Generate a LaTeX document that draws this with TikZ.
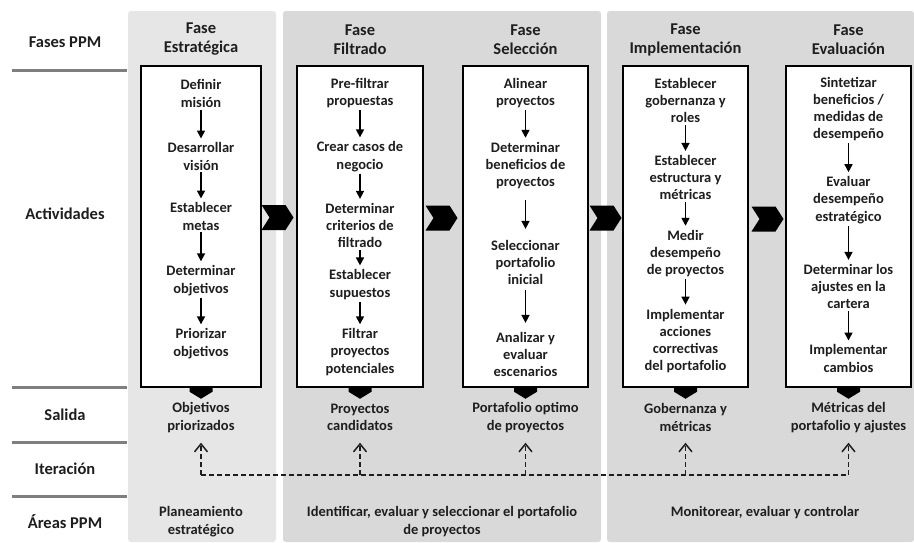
\documentclass[tikz,border=0pt]{standalone}
\usepackage{fontspec}
\setmainfont{Carlito}
\usetikzlibrary{arrows.meta}
\definecolor{pA}{HTML}{E6E6E6}
\definecolor{pB}{HTML}{D9D9D9}
\definecolor{rulec}{HTML}{7F7F7F}
\definecolor{ink}{HTML}{1E1E1E}
\begin{document}
\begin{tikzpicture}[x=1pt,y=-1pt,
  every node/.style={text=ink},
  lbl/.style={font=\fontsize{16.5}{19}\selectfont\bfseries, align=center},
  head/.style={font=\fontsize{16.5}{19}\selectfont\bfseries, align=center},
  actbox/.style={draw=black, line width=1.5pt, fill=white, minimum width=#1, minimum height=321pt, inner sep=0pt},
  act/.style={font=\fontsize{14.5}{17.3}\selectfont\bfseries, align=center, inner sep=1pt},
  flow/.style={draw=black, line width=1.6pt, -{Triangle[width=8pt,length=8pt]}, shorten <=1pt, shorten >=3pt},
  outp/.style={font=\fontsize{14.5}{17.3}\selectfont\bfseries, align=center, minimum height=50pt, inner sep=0pt},
  iter/.style={draw=ink, line width=1.5pt, dash pattern=on 5pt off 3pt},
  iterarr/.style={iter, -{Straight Barb[length=8pt,width=13pt,line width=1.5pt]}},
  rulel/.style={draw=rulec, line width=3pt},
  chev/.pic={\fill[black] (-16,-12.5) -- (8,-12.5) -- (16,0) -- (8,12.5) -- (-16,12.5) -- (-8,0) -- cycle;},
  outmark/.pic={\fill[black] (-11.5,0) -- (11.5,0) -- (11.5,4) -- (0,11) -- (-11.5,4) -- cycle;}
]
\useasboundingbox (0,0) rectangle (914,542);
\fill[white] (0,0) rectangle (914,542);
% panels
\fill[pA, rounded corners=3pt] (128,11) rectangle (276,542);
\fill[pB, rounded corners=3pt] (283,11) rectangle (601,542);
\fill[pB, rounded corners=3pt] (607,11) rectangle (914,542);
% left column
\node[lbl] (lfases) at (65,42) {Fases PPM};
\node[lbl] (lact) at (65,214) {Actividades};
\node[lbl] (lsal) at (65,415) {Salida};
\node[lbl] (liter) at (65,469) {Iteración};
\node[lbl] (lareas) at (65,522) {Áreas PPM};
\draw[rulel] (12,70) -- (127,70);
\draw[rulel] (12,387) -- (127,387);
\draw[rulel] (12,442) -- (127,442);
\draw[rulel] (12,496) -- (127,496);
% headers
\node[head] (h1) at (201,39.5) {Fase\\Estratégica};
\node[head] (h2) at (360,39.5) {Fase\\Filtrado};
\node[head] (h3) at (525.5,39.5) {Fase\\Selección};
\node[head] (h4) at (685.5,39.5) {Fase\\Implementación};
\node[head] (h5) at (848.5,39.5) {Fase\\Evaluación};
% boxes
\node[actbox=120pt] (b1) at (201,226.5) {};
\node[actbox=126pt] (b2) at (360,226.5) {};
\node[actbox=125pt] (b3) at (525.5,226.5) {};
\node[actbox=125pt] (b4) at (685.5,226.5) {};
\node[actbox=125pt] (b5) at (848.5,226.5) {};
% chevrons
\pic at (277.5,217.5) {chev};
\pic at (441.5,218) {chev};
\pic at (605.5,218) {chev};
\pic at (767.5,219) {chev};
% output markers
\pic at (b1.south) {outmark};
\pic at (b2.south) {outmark};
\pic at (b3.south) {outmark};
\pic at (b4.south) {outmark};
\pic at (b5.south) {outmark};
% activities box 1
\node[act] (a11) at (201,93.5) {Definir\\misión};
\node[act] (a12) at (201,156.5) {Desarrollar\\visión};
\node[act] (a13) at (201,216.5) {Establecer\\metas};
\node[act] (a14) at (201,280.5) {Determinar\\objetivos};
\node[act] (a15) at (201,343.5) {Priorizar\\objetivos};
\draw[flow] (a11) -- (a12);
\draw[flow] (a12) -- (a13);
\draw[flow] (a13) -- (a14);
\draw[flow] (a14) -- (a15);
% box 2
\node[act] (a21) at (360,93) {Pre-filtrar\\propuestas};
\node[act] (a22) at (360,156.5) {Crear casos de\\negocio};
\node[act] (a23) at (360,225.5) {Determinar\\criterios de\\filtrado};
\node[act] (a24) at (360,284.5) {Establecer\\supuestos};
\node[act] (a25) at (360,352) {Filtrar\\proyectos\\potenciales};
\draw[flow] (a21) -- (a22);
\draw[flow] (a22) -- (a23);
\draw[flow] (a23) -- (a24);
\draw[flow] (a24) -- (a25);
% box 3
\node[act] (a31) at (525.5,93) {Alinear\\proyectos};
\node[act] (a32) at (525.5,165.5) {Determinar\\beneficios de\\proyectos};
\node[act] (a33) at (525.5,262.5) {Seleccionar\\portafolio\\inicial};
\node[act] (a34) at (525.5,354.5) {Analizar y\\evaluar\\escenarios};
\draw[flow] (a31) -- (a32);
\draw[flow, shorten <=10pt, shorten >=10pt] (a32) -- (a33);
\draw[flow, shorten <=4pt, shorten >=8pt] (a33) -- (a34);
% box 4
\node[act] (a41) at (685.5,100.5) {Establecer\\gobernanza y\\roles};
\node[act] (a42) at (685.5,177.5) {Establecer\\estructura y\\métricas};
\node[act] (a43) at (685.5,253.5) {Medir\\desempeño\\de proyectos};
\node[act] (a44) at (685.5,341) {Implementar\\acciones\\correctivas\\del portafolio};
\draw[flow] (a41) -- (a42);
\draw[flow] (a42) -- (a43);
\draw[flow] (a43) -- (a44);
% box 5
\node[act] (a51) at (848.5,109) {Sintetizar\\beneficios /\\medidas de\\desempeño};
\node[act] (a52) at (848.5,200) {Evaluar\\desempeño\\estratégico};
\node[act] (a53) at (848.5,286.5) {Determinar los\\ajustes en la\\cartera};
\node[act] (a54) at (848.5,358.5) {Implementar\\cambios};
\draw[flow] (a51) -- (a52);
\draw[flow] (a52) -- (a53);
\draw[flow] (a53) -- (a54);
% outputs
\node[outp] (o1) at (201,417.5) {Objetivos\\priorizados};
\node[outp] (o2) at (360,417.5) {Proyectos\\candidatos};
\node[outp] (o3) at (525.5,417.5) {Portafolio optimo\\de proyectos};
\node[outp] (o4) at (685.5,417.5) {Gobernanza y\\métricas};
\node[outp] (o5) at (848.5,417.5) {Métricas del\\portafolio y ajustes};
% iteration
\coordinate (i1) at (201,475);
\coordinate (i2) at (360,475);
\coordinate (i3) at (525.5,475);
\coordinate (i4) at (685.5,475);
\coordinate (i5) at (848.5,475);
\draw[iter] (i1) -- (i5);
\draw[iterarr] (i1) -- (o1);
\draw[iterarr] (i2) -- (o2);
\draw[iterarr] (i3) -- (o3);
\draw[iterarr] (i4) -- (o4);
\draw[iterarr] (i5) -- (o5);
% areas
\node[act] (ar1) at (201,521.5) {Planeamiento\\estratégico};
\node[act] (ar2) at (442,521.5) {Identificar, evaluar y seleccionar el portafolio\\de proyectos};
\node[act] (ar3) at (765,513) {Monitorear, evaluar y controlar};
\end{tikzpicture}
\end{document}
